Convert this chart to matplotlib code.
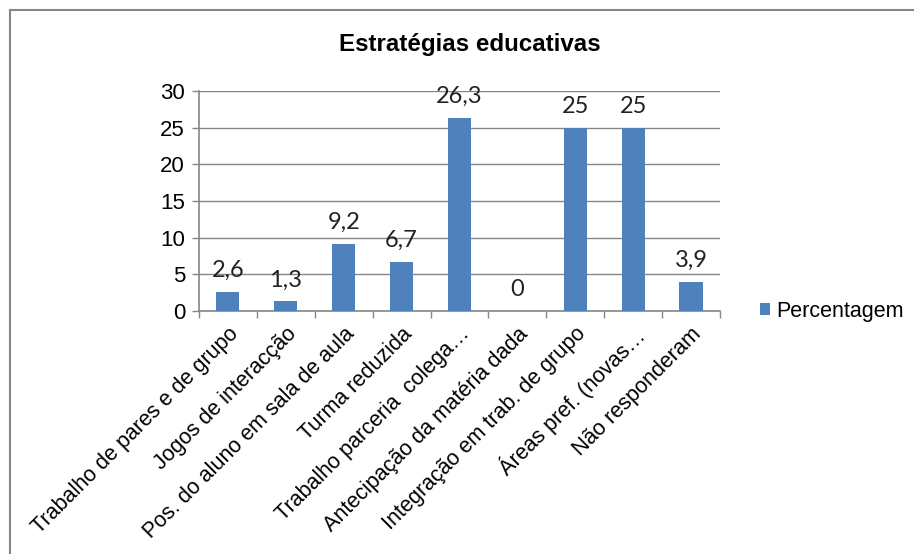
import matplotlib.pyplot as plt
from matplotlib.lines import Line2D
import numpy as np

categorias = [
    "Trabalho de pares e de grupo",
    "Jogos de interacção",
    "Pos. do aluno em sala de aula",
    "Turma reduzida",
    "Trabalho parceria  colega…",
    "Antecipação da matéria dada",
    "Integração em trab. de grupo",
    "Áreas pref. (novas…",
    "Não responderam",
]
percentagem = [2.6, 1.3, 9.2, 6.7, 26.3, 0, 25, 25, 3.9]
rotulos = ["2,6", "1,3", "9,2", "6,7", "26,3", "0", "25", "25", "3,9"]

azul = "#4F81BD"
cinza = "#868686"

fig = plt.figure(figsize=(9.14, 5.54), dpi=100)
ax = fig.add_axes([0.2177, 0.4386, 0.57, 0.3971])

x = np.arange(len(categorias))
ax.bar(x, percentagem, width=0.4, color=azul, label="Percentagem", zorder=3)

for xi, v, r in zip(x, percentagem, rotulos):
    ax.annotate(r, (xi, v), xytext=(0, 8), textcoords="offset points",
                ha="center", va="bottom", fontsize=17, family="Lato",
                color="#222222", zorder=4)

ax.set_xlim(-0.5, len(categorias) - 0.5)
ax.set_ylim(0, 30)
ax.set_yticks(range(0, 31, 5))
ax.yaxis.grid(True, color=cinza, lw=1)
ax.set_axisbelow(True)

ax.set_xticks(x)
ax.set_xticklabels(categorias, rotation=45, ha="right", va="top",
                   rotation_mode="anchor", fontsize=15.5, family="Liberation Sans")
ax.set_xticks(np.arange(-0.5, len(categorias)), minor=True)
ax.tick_params(axis="x", which="major", length=0, pad=9)
ax.tick_params(axis="x", which="minor", length=5, color=cinza, width=1)
ax.tick_params(axis="y", length=5, color=cinza, width=1, pad=5)
for t in ax.get_yticklabels():
    t.set_fontsize(16)
    t.set_family("Liberation Sans")

for s in ["top", "right"]:
    ax.spines[s].set_visible(False)
for s in ["left", "bottom"]:
    ax.spines[s].set_color(cinza)
    ax.spines[s].set_linewidth(1.2)

fig.text(0.514, 0.919, "Estratégias educativas", ha="center", va="center",
         fontsize=17.4, fontweight="bold", family="Liberation Sans")

leg = fig.legend(*ax.get_legend_handles_labels(), loc="center left",
                 bbox_to_anchor=(0.832, 1 - 311 / 554), frameon=False,
                 handlelength=0.45, handleheight=0.45, handletextpad=0.3,
                 borderaxespad=0, borderpad=0,
                 prop={"family": "Liberation Sans", "size": 15.5})

# moldura superior e esquerda
fig.add_artist(Line2D([10 / 914, 1], [1 - 10 / 554, 1 - 10 / 554],
                      transform=fig.transFigure, color=cinza, lw=1.5))
fig.add_artist(Line2D([10 / 914, 10 / 914], [0, 1 - 10 / 554],
                      transform=fig.transFigure, color=cinza, lw=1.5))

fig.savefig("out.png", dpi=100)
